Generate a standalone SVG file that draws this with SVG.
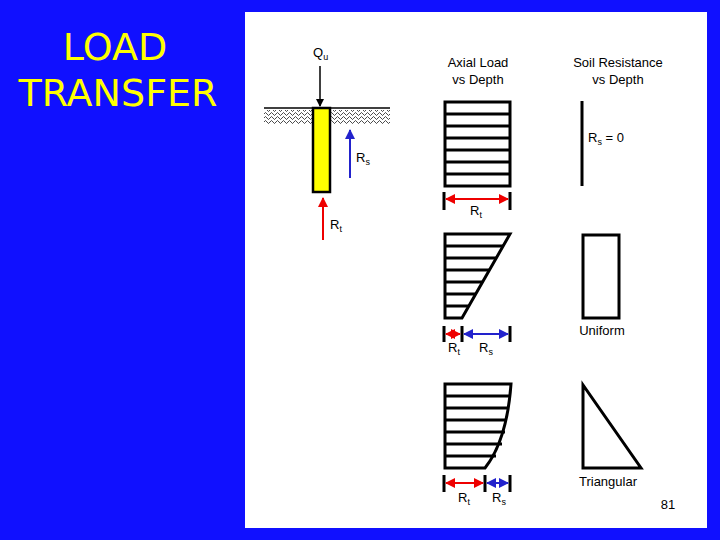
<svg xmlns="http://www.w3.org/2000/svg" width="720" height="540" viewBox="0 0 720 540">
<defs>
<style>
text{font-family:"Liberation Sans",Arial,sans-serif;font-size:13px;fill:#000}
.s{stroke:#000;stroke-width:3;fill:none}
.t{stroke:#000;stroke-width:3}
.r{stroke:#e00;stroke-width:2}
.b{stroke:#22c;stroke-width:2}
</style>
<marker id="ak" markerWidth="8" markerHeight="8" refX="7" refY="4" orient="auto" markerUnits="userSpaceOnUse"><path d="M0,0L8,4L0,8z" fill="#000"/></marker>
<marker id="ar" markerWidth="10" markerHeight="10" refX="9" refY="5" orient="auto-start-reverse" markerUnits="userSpaceOnUse"><path d="M0,0L10,5L0,10z" fill="#e00"/></marker>
<marker id="ab" markerWidth="10" markerHeight="10" refX="9" refY="5" orient="auto-start-reverse" markerUnits="userSpaceOnUse"><path d="M0,0L10,5L0,10z" fill="#22c"/></marker>
<pattern id="wav" width="6" height="4" patternUnits="userSpaceOnUse"><path d="M0,2L1.5,0.5L3,2L4.5,3.5L6,2" stroke="#000" stroke-width="0.7" fill="none"/></pattern>
</defs>
<rect width="720" height="540" fill="#1010ff"/>
<g id="title"><text x="115" y="60" text-anchor="middle" style="font-family:'DejaVu Sans',sans-serif;font-size:38px;fill:#ff0">LOAD</text>
<text x="118" y="106" text-anchor="middle" style="font-family:'DejaVu Sans',sans-serif;font-size:38px;fill:#ff0">TRANSFER</text></g>
<rect x="245" y="12" width="462" height="516" fill="#fff"/>
<g id="pile">
<rect x="264" y="110" width="49" height="14" fill="url(#wav)"/>
<rect x="331" y="110" width="59" height="14" fill="url(#wav)"/>
<line x1="264" y1="108" x2="390" y2="108" stroke="#000" stroke-width="1.5"/>
<rect x="313" y="108" width="17" height="84" fill="#ff0" stroke="#000" stroke-width="2.5"/>
<text x="313" y="57">Q<tspan font-size="9" dy="3">u</tspan></text>
<text x="356" y="162">R<tspan font-size="9" dy="3">s</tspan></text>
<text x="330" y="229">R<tspan font-size="9" dy="3">t</tspan></text>
</g>
<g id="connectors">
<line x1="320" y1="66" x2="320" y2="106" stroke="#000" stroke-width="1.5" marker-end="url(#ak)"/>
<line x1="350" y1="178" x2="350" y2="130" class="b" marker-end="url(#ab)"/>
<line x1="323" y1="240" x2="323" y2="198" class="r" marker-end="url(#ar)"/>
</g>
<g id="axial">
<text x="478" y="67" text-anchor="middle">Axial Load</text>
<text x="478" y="84" text-anchor="middle">vs Depth</text>
<rect x="445" y="102" width="65" height="84" class="s"/>
<path class="s" d="M445,114H510M445,126H510M445,138H510M445,150H510M445,162H510M445,174H510"/>
<path class="t" d="M444,192V210M510,192V210"/>
<line x1="446" y1="199" x2="508" y2="199" class="r" marker-start="url(#ar)" marker-end="url(#ar)"/>
<text x="470" y="215">R<tspan font-size="9" dy="3">t</tspan></text>
<path class="s" d="M445,234H510L462,318H445Z"/>
<path class="s" d="M445,246H503M445,258H496M445,270H489M445,282H482M445,294H475M445,306H469"/>
<path class="t" d="M444,326V342M462,326V342M510,326V342"/>
<line x1="446" y1="334" x2="460" y2="334" class="r" marker-start="url(#ar)" marker-end="url(#ar)"/>
<line x1="464" y1="334" x2="508" y2="334" class="b" marker-start="url(#ab)" marker-end="url(#ab)"/>
<text x="448" y="352">R<tspan font-size="9" dy="3">t</tspan></text>
<text x="479" y="352">R<tspan font-size="9" dy="3">s</tspan></text>
<path class="s" d="M445,384H511Q507,440 485,468H445Z"/>
<path class="s" d="M445,396H510M445,408H509M445,420H507M445,432H505M445,444H502M445,456H496"/>
<path class="t" d="M444,475V492M485,475V492M510,475V492"/>
<line x1="446" y1="483" x2="483" y2="483" class="r" marker-start="url(#ar)" marker-end="url(#ar)"/>
<line x1="487" y1="483" x2="508" y2="483" class="b" marker-start="url(#ab)" marker-end="url(#ab)"/>
<text x="458" y="502">R<tspan font-size="9" dy="3">t</tspan></text>
<text x="492" y="502">R<tspan font-size="9" dy="3">s</tspan></text>
</g>
<g id="soil">
<text x="618" y="67" text-anchor="middle">Soil Resistance</text>
<text x="618" y="84" text-anchor="middle">vs Depth</text>
<line x1="582" y1="101" x2="582" y2="186" class="t"/>
<text x="588" y="142">R<tspan font-size="9" dy="3">s</tspan><tspan dy="-3"> = 0</tspan></text>
<rect x="583" y="235" width="36" height="83" class="s"/>
<text x="602" y="335" text-anchor="middle">Uniform</text>
<path class="s" d="M583,385V468H641Z"/>
<text x="608" y="486" text-anchor="middle">Triangular</text>
<text x="668" y="509" text-anchor="middle">81</text>
</g>
</svg>
